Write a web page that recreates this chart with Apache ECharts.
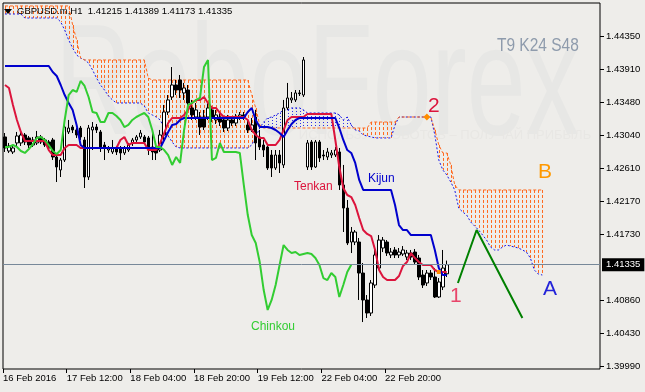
<!DOCTYPE html>
<html><head><meta charset="utf-8">
<script src="https://cdn.jsdelivr.net/npm/echarts@6/dist/echarts.min.js"></script>
<style>html,body{margin:0;padding:0;background:#EEEDEA;}#c{width:645px;height:392px;}</style>
</head><body><div id="c"></div>
<script>
// ---------------- data ----------------
const symbolName = 'GBPUSD.m,H1';
const barCount = 150;               // hourly slots on the x axis (incl. 24 future slots of the cloud)
const xTickBars = [0, 16, 32, 48, 64, 80, 96];
const xTickLabels = ['16 Feb 2016', '17 Feb 12:00', '18 Feb 04:00', '18 Feb 20:00', '19 Feb 12:00', '22 Feb 04:00', '22 Feb 20:00'];
const yTickValues = [1.39990, 1.40430, 1.40860, 1.41730, 1.42170, 1.42610, 1.43040, 1.43480, 1.43910, 1.44350];

// [open, close, low, high]
const candles = [
[1.43019,1.42874,1.42821,1.43071],[1.42834,1.42900,1.42808,1.42940],[1.42821,1.42874,1.42794,1.42913],[1.42940,1.43032,1.42900,1.43085],
[1.42940,1.43045,1.42900,1.43085],[1.43045,1.42953,1.42913,1.43071],[1.43006,1.42913,1.42874,1.43032],[1.42913,1.42979,1.42887,1.43019],
[1.42940,1.43019,1.42913,1.43098],[1.43019,1.42953,1.42926,1.43045],[1.42979,1.42913,1.42887,1.43006],[1.42953,1.42874,1.42847,1.42979],
[1.42979,1.42755,1.42715,1.43006],[1.42755,1.42623,1.42425,1.42781],[1.42584,1.42715,1.42491,1.42742],[1.42715,1.43150,1.42689,1.43216],
[1.43085,1.43137,1.43058,1.43243],[1.43150,1.43111,1.43071,1.43177],[1.43111,1.43045,1.43006,1.43137],[1.43137,1.43019,1.42979,1.43164],
[1.42979,1.42491,1.42346,1.43019],[1.42491,1.43137,1.42452,1.43177],[1.43111,1.43150,1.42847,1.43216],[1.43150,1.43111,1.43071,1.43190],
[1.43085,1.42887,1.42821,1.43111],[1.42913,1.42874,1.42715,1.42953],[1.42847,1.42874,1.42808,1.42900],[1.42821,1.42874,1.42794,1.42979],
[1.42874,1.42821,1.42781,1.42900],[1.42874,1.42808,1.42715,1.42900],[1.42808,1.42874,1.42781,1.42900],[1.42847,1.42913,1.42821,1.42940],
[1.42940,1.42979,1.42900,1.43006],[1.42979,1.43019,1.42953,1.43045],[1.43019,1.43071,1.42992,1.43111],[1.43019,1.42953,1.42926,1.43045],
[1.43006,1.42847,1.42781,1.43032],[1.42887,1.42821,1.42715,1.43071],[1.42874,1.42808,1.42715,1.42913],[1.42847,1.43045,1.42821,1.43111],
[1.43045,1.43348,1.42979,1.43441],[1.43348,1.43507,1.43309,1.43572],[1.43546,1.43704,1.43507,1.43941],[1.43704,1.43638,1.43572,1.43770],
[1.43770,1.43638,1.43533,1.43836],[1.43599,1.43665,1.43507,1.43731],[1.43638,1.43467,1.43375,1.43704],[1.43401,1.43309,1.43243,1.43507],
[1.43282,1.43375,1.43243,1.43467],[1.43282,1.43150,1.43045,1.43348],[1.43282,1.43150,1.43111,1.43375],[1.43282,1.43401,1.43243,1.43467],
[1.43375,1.43282,1.43216,1.43427],[1.43243,1.43309,1.43190,1.43375],[1.43282,1.43216,1.43164,1.43335],[1.43243,1.43137,1.43085,1.43295],
[1.43137,1.43243,1.43098,1.43309],[1.43243,1.43203,1.43164,1.43282],[1.43203,1.43282,1.43164,1.43322],[1.43269,1.43309,1.43243,1.43348],
[1.43309,1.43282,1.43243,1.43348],[1.43177,1.43111,1.43071,1.43243],[1.43111,1.43177,1.43085,1.43269],[1.43282,1.42940,1.42715,1.43375],
[1.43019,1.42887,1.42847,1.43111],[1.42913,1.42847,1.42755,1.42979],[1.42887,1.42610,1.42584,1.42913],[1.42781,1.42610,1.42491,1.42847],
[1.42610,1.42781,1.42584,1.42847],[1.42781,1.42676,1.42544,1.42847],[1.42650,1.43401,1.42610,1.43507],[1.43401,1.43533,1.43375,1.43731],
[1.43507,1.43533,1.43467,1.43612],[1.43507,1.43599,1.43480,1.43638],[1.43599,1.43590,1.43559,1.43638],[1.43572,1.44034,1.43546,1.44073],
[1.42623,1.42940,1.42584,1.42979],[1.42953,1.42623,1.42584,1.42979],[1.42623,1.42953,1.42610,1.42979],[1.42953,1.42742,1.42689,1.42979],
[1.42781,1.42768,1.42715,1.42847],[1.42755,1.42821,1.42715,1.42874],[1.42781,1.42808,1.42742,1.42847],[1.42781,1.42847,1.42755,1.42887],
[1.42821,1.42386,1.42320,1.42874],[1.42386,1.42082,1.41766,1.42650],[1.42082,1.41621,1.41594,1.42188],[1.41634,1.41766,1.41489,1.41832],
[1.41634,1.41766,1.41594,1.41792],[1.41634,1.41225,1.40870,1.41687],[1.41225,1.40870,1.40579,1.41357],[1.40870,1.40698,1.40632,1.40935],
[1.40698,1.41094,1.40659,1.41133],[1.41067,1.41463,1.41028,1.41529],[1.41291,1.41660,1.41265,1.41726],[1.41555,1.41660,1.41502,1.41700],
[1.41634,1.41489,1.41450,1.41660],[1.41463,1.41502,1.41423,1.41555],[1.41529,1.41463,1.41423,1.41568],[1.41463,1.41502,1.41423,1.41555],
[1.41476,1.41529,1.41450,1.41581],[1.41436,1.41489,1.41397,1.41529],[1.41489,1.41436,1.41397,1.41529],[1.41502,1.41370,1.41331,1.41542],
[1.41423,1.41173,1.41133,1.41463],[1.41199,1.41067,1.41028,1.41265],[1.41094,1.41225,1.41054,1.41265],[1.41225,1.41173,1.41133,1.41265],
[1.41173,1.40909,1.40896,1.41291],[1.40909,1.41107,1.40896,1.41159],[1.41041,1.41291,1.41001,1.41529],[1.41215,1.41335,1.41173,1.41389]
];

const tenkan = [
1.43704,1.43665,1.43441,1.43243,1.43085,1.42966,1.42966,1.42966,1.42966,1.42966,
1.42966,1.42847,1.42781,1.42781,1.42781,1.42874,1.42913,1.42913,1.42913,1.42874,
1.42874,1.42874,1.42874,1.42874,1.42874,1.42874,1.42874,1.42874,1.42874,1.42979,
1.43019,1.42913,1.42940,1.42940,1.42940,1.42940,1.42847,1.42847,1.42847,1.42940,
1.43071,1.43203,1.43269,1.43269,1.43269,1.43309,1.43375,1.43467,1.43507,1.43507,
1.43546,1.43467,1.43401,1.43401,1.43335,1.43282,1.43282,1.43282,1.43282,1.43282,
1.43282,1.43243,1.43111,1.43045,1.43006,1.43006,1.42913,1.42913,1.42913,1.42979,
1.43111,1.43243,1.43282,1.43282,1.43282,1.43282,1.43322,1.43322,1.43322,1.43322,
1.43322,1.43322,1.43322,1.42979,1.42623,1.42346,1.42254,1.42227,1.42122,1.41951,
1.41792,1.41740,1.41713,1.41529,1.41265,1.41173,1.41133,1.41133,1.41133,1.41186,
1.41318,1.41370,1.41489,1.41423,1.41370,1.41331,1.41331,1.41331,1.41265,1.41239,
1.41239,1.41239
];

const kijun = [
1.43955,1.43955,1.43955,1.43955,1.43955,1.43955,1.43955,1.43955,1.43955,1.43955,
1.43955,1.43955,1.43875,1.43823,1.43704,1.43572,1.43467,1.43375,1.43177,1.42913,
1.42874,1.42874,1.42874,1.42874,1.42874,1.42874,1.42874,1.42874,1.42874,1.42874,
1.42874,1.42874,1.42874,1.42874,1.42874,1.42874,1.42874,1.42874,1.42874,1.42874,
1.42979,1.43085,1.43177,1.43190,1.43243,1.43269,1.43269,1.43269,1.43269,1.43269,
1.43269,1.43269,1.43269,1.43269,1.43269,1.43269,1.43269,1.43269,1.43269,1.43269,
1.43269,1.43348,1.43401,1.43243,1.43150,1.43150,1.43150,1.43137,1.43111,1.43071,
1.43019,1.43111,1.43190,1.43243,1.43269,1.43269,1.43269,1.43269,1.43269,1.43269,
1.43269,1.43269,1.43269,1.43269,1.43137,1.42979,1.42847,1.42808,1.42676,1.42452,
1.42320,1.42320,1.42320,1.42320,1.42320,1.42320,1.42320,1.42320,1.42122,1.41858,
1.41792,1.41792,1.41726,1.41726,1.41726,1.41726,1.41726,1.41726,1.41529,1.41291,
1.41199,1.41199
];

const chinkou = [
1.42887,1.42887,1.42913,1.42887,1.42834,1.42808,1.42860,1.42926,1.43006,1.43019,
1.42979,1.42913,1.42834,1.42794,1.42847,1.43243,1.43572,1.43638,1.43612,1.43757,
1.43691,1.43546,1.43348,1.43335,1.43216,1.43216,1.43335,1.43335,1.43295,1.43243,
1.43150,1.43177,1.43243,1.43282,1.43309,1.43335,1.43282,1.43111,1.42887,1.42887,
1.42847,1.42781,1.42650,1.42755,1.42676,1.43111,1.43441,1.43467,1.43507,1.43533,
1.43941,1.44034,1.42715,1.42742,1.42940,1.42821,1.42821,1.42821,1.42821,1.42808,
1.42386,1.41990,1.41726,1.41621,1.41370,1.41001,1.40738,1.40870,1.41067,1.41331,
1.41594,1.41529,1.41489,1.41502,1.41463,1.41476,1.41489,1.41476,1.41423,1.41331,
1.41159,1.41133,1.41225,1.41173,1.40909,1.41067,1.41239,1.41335
];

const spanA = [
1.44640,1.44640,1.44640,1.44640,1.44640,1.44587,1.44587,1.44587,1.44587,1.44587,
1.44587,1.44587,1.44587,1.44587,1.44535,1.44429,1.44297,1.44192,1.44099,1.44060,
1.44034,1.43994,1.43902,1.43796,1.43704,1.43638,1.43559,1.43507,1.43467,1.43467,
1.43467,1.43467,1.43467,1.43467,1.43467,1.43427,1.43335,1.43309,1.43282,1.43243,
1.43137,1.43032,1.42953,1.42887,1.42874,1.42874,1.42874,1.42874,1.42874,1.42874,
1.42874,1.42874,1.42874,1.42874,1.42874,1.42874,1.42874,1.42874,1.42874,1.42874,
1.42874,1.42874,1.42913,1.43019,1.43137,1.43216,1.43269,1.43282,1.43309,1.43335,
1.43375,1.43375,1.43401,1.43401,1.43401,1.43375,1.43335,1.43335,1.43335,1.43335,
1.43335,1.43335,1.43335,1.43335,1.43309,1.43243,1.43282,1.43177,1.43111,1.43098,
1.43045,1.43032,1.43019,1.43006,1.43006,1.43006,1.43006,1.43006,1.43177,1.43282,
1.43282,1.43282,1.43282,1.43282,1.43282,1.43282,1.43282,1.43282,1.43045,1.42715,
1.42584,1.42518,1.42425,1.42320,1.42082,1.42030,1.41990,1.41898,1.41845,1.41792,
1.41726,1.41660,1.41568,1.41529,1.41529,1.41568,1.41594,1.41581,1.41568,1.41555,
1.41529,1.41502,1.41423,1.41265,1.41212,1.41199
];

const spanB = [
1.44746,1.44746,1.44746,1.44746,1.44746,1.44746,1.44746,1.44746,1.44746,1.44746,
1.44746,1.44746,1.44746,1.44746,1.44746,1.44746,1.44746,1.44495,1.44297,1.44060,
1.44034,1.44034,1.44034,1.44034,1.44034,1.44034,1.44034,1.44034,1.44034,1.44034,
1.44034,1.44034,1.44034,1.44034,1.44034,1.44034,1.43796,1.43770,1.43770,1.43770,
1.43770,1.43770,1.43770,1.43770,1.43770,1.43770,1.43770,1.43770,1.43770,1.43770,
1.43770,1.43770,1.43770,1.43770,1.43770,1.43770,1.43770,1.43770,1.43770,1.43770,
1.43770,1.43770,1.43572,1.43401,1.43177,1.43137,1.43137,1.43137,1.43137,1.43137,
1.43137,1.43137,1.43137,1.43137,1.43137,1.43137,1.43137,1.43137,1.43137,1.43137,
1.43137,1.43137,1.43137,1.43137,1.43137,1.43137,1.43137,1.43137,1.43137,1.43137,
1.43137,1.43137,1.43216,1.43216,1.43216,1.43216,1.43216,1.43216,1.43216,1.43282,
1.43282,1.43282,1.43282,1.43282,1.43282,1.43282,1.43282,1.43282,1.43111,1.42913,
1.42808,1.42808,1.42650,1.42386,1.42320,1.42320,1.42320,1.42320,1.42320,1.42320,
1.42320,1.42320,1.42320,1.42320,1.42320,1.42320,1.42320,1.42320,1.42320,1.42320,
1.42320,1.42320,1.42320,1.42320,1.42320,1.42320
];

// hand-drawn forecast path: [bar position, price]
const forecast = [[113.8, 1.41094], [118.5, 1.41792], [130.0, 1.40632]];

// ---------------- chart ----------------
const FONT = '"Liberation Sans", Arial, sans-serif';
const cats = Array.from({length: barCount}, (_, i) => String(i));
const fmt5 = v => v.toFixed(5);
const last = candles[candles.length - 1];
const titleText = symbolName + '  ' + [last[0], last[3], last[2], last[1]].map(fmt5).join(' ');
const cloudData = spanA.map((a, i) => [i, a, spanB[i]]);
const xTickPos = xTickBars.map(b => b - 0.5);

function txt(x, y, text, size, fill, extra) {
  return Object.assign({
    type: 'text', x: x, y: y, z: 100, silent: true,
    style: {text: text, fill: fill, fontSize: size, fontFamily: FONT,
      align: 'left', textAlign: 'left', verticalAlign: 'middle', textVerticalAlign: 'middle'}
  }, extra || {});
}

const chart = echarts.init(document.getElementById('c'), null, {renderer: 'canvas'});
chart.setOption({
  animation: false,
  backgroundColor: '#EEEDEA',
  grid: {left: 2, right: 45, top: 3, bottom: 23, show: true, borderColor: '#000', borderWidth: 1, backgroundColor: 'transparent'},
  xAxis: [
    {type: 'category', data: cats, boundaryGap: true, axisLine: {show: false, onZero: false}, axisTick: {show: false}, axisLabel: {show: false}, splitLine: {show: false}},
    {type: 'value', min: -0.5, max: barCount - 0.5, position: 'bottom',
      axisLine: {show: false, onZero: false}, splitLine: {show: false},
      axisTick: {show: true, customValues: xTickPos, length: 4, lineStyle: {color: '#000'}},
      axisLabel: {customValues: xTickPos, align: 'left', margin: 4, color: '#000', fontSize: 9.5, fontFamily: FONT,
        formatter: v => { const k = xTickBars.indexOf(Math.round(v + 0.5)); return k >= 0 ? xTickLabels[k] : ''; }}}
  ],
  yAxis: {type: 'value', position: 'right', min: 1.39960, max: 1.44785,
    axisLine: {show: false, onZero: false}, splitLine: {show: false},
    axisTick: {show: true, customValues: yTickValues, length: 4, lineStyle: {color: '#000'}},
    axisLabel: {customValues: yTickValues, formatter: v => fmt5(v), margin: 6, color: '#000', fontSize: 9.5, fontFamily: FONT}},
  graphic: {elements: [
    {type: 'text', x: 55, y: 90, z: -10, silent: true, scaleX: 0.67,
      style: {text: 'RoboForex', fill: '#E7E7E5', fontSize: 158, fontFamily: FONT, align: 'left', textAlign: 'left', verticalAlign: 'middle', textVerticalAlign: 'middle'}},
    {type: 'text', x: 445, y: 135, z: -10, silent: true,
      style: {text: 'ИСПОЛЬЗУЙ РОБОТОВ – ПОЛУЧАЙ ПРИБЫЛЬ', fill: '#E8E7E4', fontSize: 13, fontFamily: FONT, align: 'center', textAlign: 'center', verticalAlign: 'middle', textVerticalAlign: 'middle'}},
    {type: 'polygon', z: 100, silent: true, shape: {points: [[4, 9], [12, 9], [8, 14]]}, style: {fill: '#000'}},
    txt(17, 11, titleText, 9.5, '#000'),
    txt(497, 46, 'T9 K24 S48', 18, '#8E9BAC', {scaleX: 0.86}),
    txt(368, 179, 'Kijun', 12, '#0000CD'),
    txt(294, 187, 'Tenkan', 12, '#DC143C'),
    txt(251, 327, 'Chinkou', 12, '#32CD32'),
    txt(428, 106, '2', 21, '#DC143C'),
    txt(538, 172, 'B', 21, '#FF9900'),
    txt(450, 296, '1', 21, '#E8456A'),
    txt(543, 289, 'A', 21, '#2323D9')
  ]},
  series: [
    {type: 'custom', name: 'cloud', xAxisIndex: 0, yAxisIndex: 0, z: 1, silent: true,
      data: cloudData, encode: {x: 0, y: [1, 2]},
      renderItem: function (params, api) {
        const i = api.value(0), a = api.value(1), b = api.value(2);
        if (a === b) return {type: 'group', children: []};
        const pa = api.coord([i, a]), pb = api.coord([i, b]);
        const x = Math.round(pa[0]) + 0.5;
        const bearish = b > a;
        const top = bearish ? pb[1] : pa[1], bot = bearish ? pa[1] : pb[1];
        return {type: 'line', shape: {x1: x, y1: top, x2: x, y2: bot},
          style: {stroke: bearish ? '#FF6A1F' : '#2A2AE8', lineWidth: 1, lineDash: bearish ? [3, 2] : [1, 2]}};
      }},
    {type: 'line', name: 'Senkou A', data: spanA, symbol: 'none', z: 2, silent: true,
      lineStyle: {color: '#1818E8', width: 1, type: [2, 2]}},
    {type: 'line', name: 'Senkou B', data: spanB, symbol: 'none', z: 2, silent: true,
      lineStyle: {color: '#FF6A20', width: 1, type: [3, 2]},
      markPoint: {symbol: 'diamond', symbolSize: 7, silent: true, label: {show: false}, itemStyle: {color: '#FF8C00'},
        data: [{coord: [106, spanB[106]]}]}},
    {type: 'candlestick', name: 'price', data: candles, barWidth: 3, z: 3, silent: true,
      itemStyle: {color: '#FFFFFF', color0: '#000000', borderColor: '#000000', borderColor0: '#000000', borderWidth: 1}},
    {type: 'line', name: 'Tenkan', data: tenkan, symbol: 'none', z: 4, silent: true, lineStyle: {color: '#DC143C', width: 2},
      markPoint: {symbol: 'rect', symbolSize: 4, silent: true, label: {show: false}, itemStyle: {color: '#FF8C00'},
        data: [{coord: [109, tenkan[109]]}]}},
    {type: 'line', name: 'Kijun', data: kijun, symbol: 'none', z: 4, silent: true, lineStyle: {color: '#0000CD', width: 2}},
    {type: 'line', name: 'Chinkou', data: chinkou, symbol: 'none', z: 4, silent: true, lineStyle: {color: '#32CD32', width: 2}},
    {type: 'line', name: 'forecast', xAxisIndex: 1, yAxisIndex: 0, data: forecast, symbol: 'none', z: 5, silent: true,
      lineStyle: {color: '#008000', width: 2},
      markLine: {symbol: ['none', 'none'], silent: true, animation: false, precision: 5,
        lineStyle: {color: '#778899', width: 1, type: 'solid'},
        label: {show: true, position: 'end', distance: 2, formatter: fmt5(last[1]), color: '#fff', backgroundColor: '#000',
          padding: [2, 4, 1, 4], fontSize: 9.5, fontFamily: FONT},
        data: [{yAxis: last[1]}]}}
  ]
});
</script>
</body></html>
